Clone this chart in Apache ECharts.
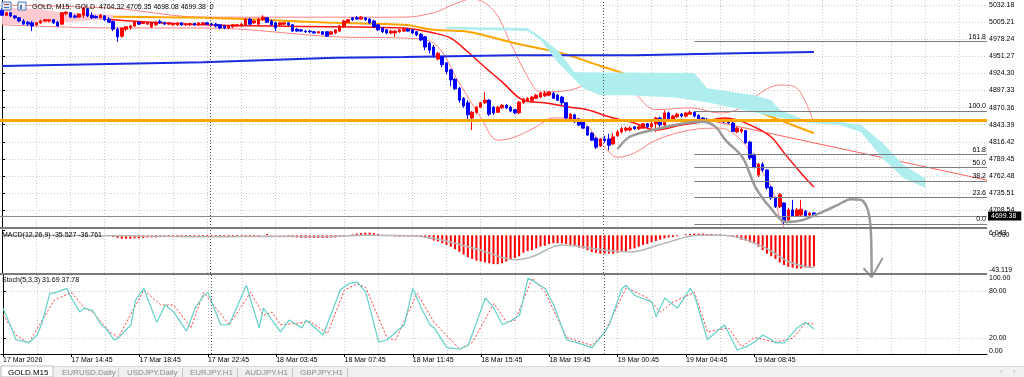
<!DOCTYPE html>
<html>
<head>
<meta charset="utf-8">
<title>GOLD M15</title>
<script src="https://cdn.jsdelivr.net/npm/echarts@6.0.0/dist/echarts.min.js"></script>
<style>
  html, body { margin: 0; padding: 0; background: #fff; }
  #chart { width: 1024px; height: 377px; }
</style>
</head>
<body>
<div id="chart"></div>
<script>
// slots on the time axis (bars + empty shift on the right)
const SLOTS = 231

const timeLabels = ['17 Mar 2026', '17 Mar 14:45', '17 Mar 18:45', '17 Mar 22:45', '18 Mar 03:45', '18 Mar 07:45',
  '18 Mar 11:45', '18 Mar 15:45', '18 Mar 19:45', '19 Mar 00:45', '19 Mar 04:45', '19 Mar 08:45']
const priceTicks = [5032.18, 5005.21, 4978.24, 4951.27, 4924.30, 4897.33, 4870.36, 4843.39, 4816.42, 4789.45, 4762.48, 4735.51, 4708.54]
const macdTicks = [6.043, -43.119]
const macdZero = [0]
const stochTicks = [100, 80, 20, 0]
const tabs = ['GOLD.M15', 'EURUSD.Daily', 'USDJPY.Daily', 'EURJPY.H1', 'AUDJPY.H1', 'GBPJPY.H1']

// M15 candles [open, close, low, high]
const candles = [
  [5024,5016,5015,5027],[5016,5020,5015,5021],[5020,5015,5013,5021],[5015,5012,5010,5016],[5012,5007,5005,5013],
  [5007,5002,5001,5010],[5005,5002,4999,5007],[5004,4999,4991,5007],[5001,5004,4999,5005],[5004,5007,5002,5009],
  [5007,5009,5006,5010],[5007,5009,5005,5010],[5009,5004,5002,5010],[5005,4999,4998,5007],[5002,5020,5001,5021],
  [5019,5021,5016,5022],[5020,5013,5012,5021],[5015,5013,5011,5017],[5013,5018,5012,5019],[5016,5027,5012,5029],
  [5026,5015,5013,5027],[5016,5012,5010,5021],[5014,5012,5011,5016],[5012,5016,5011,5018],[5015,5009,5007,5016],
  [5010,5005,5004,5013],[5006,4994,4991,5008],[4994,4982,4974,4997],[4983,4996,4981,4997],[4994,4998,4991,4999],
  [4997,4999,4993,5001],[4999,5005,4998,5007],[5005,5002,5001,5007],[5003,5005,5002,5007],[5002,5004,5001,5005],
  [4998,5004,4996,5005],[5001,5005,4999,5007],[5006,5004,5002,5009],[5004,5002,5001,5006],[5002,5004,5001,5005],
  [5001,5002,4999,5004],[5001,5004,4999,5005],[5004,5001,4999,5005],[5001,5002,4999,5004],[5001,5003,4999,5004],
  [5003,5001,4999,5004],[5001,5004,4999,5005],[5002,5004,5001,5005],[5004,5002,5001,5005],[5002,5001,4999,5004],
  [5002,4999,4997,5004],[5001,4996,4994,5002],[4999,4996,4994,5001],[4996,4999,4994,5001],[4998,5001,4996,5002],
  [4999,5001,4998,5002],[4999,5002,4998,5004],[5001,5010,4999,5012],[5010,5002,5001,5012],[5004,5007,5002,5009],
  [5002,5010,5001,5012],[5009,5013,5007,5016],[5012,5005,5004,5013],[5007,5001,4999,5009],[5004,4996,4991,5005],
  [5001,5004,4999,5005],[5002,5004,5001,5005],[5004,5001,4999,5005],[5001,4991,4990,5002],[4994,4991,4990,4996],
  [4993,4991,4990,4994],[4991,4990,4988,4993],[4991,4990,4988,4993],[4990,4988,4987,4991],[4988,4990,4987,4991],
  [4990,4986,4985,4991],[4990,4983,4982,4991],[4986,4990,4985,4991],[4988,4993,4986,4994],[4991,4999,4990,5001],
  [4998,5007,4996,5009],[5005,5009,5004,5010],[5012,5009,5007,5013],[5012,5010,5009,5015],[5010,5013,5009,5015],
  [5012,5009,5007,5013],[5010,5004,5002,5012],[5007,4998,4996,5009],[5001,4993,4991,5002],[4996,4990,4988,4997],
  [4993,4988,4986,4994],[4988,4991,4986,4993],[4988,4991,4982,4993],[4990,4993,4988,4994],[4991,4994,4990,4996],
  [4994,4991,4990,4996],[4993,4988,4986,4994],[4990,4985,4983,4991],[4986,4977,4975,4988],[4982,4966,4961,4983],
  [4972,4961,4956,4974],[4966,4953,4949,4969],[4947,4956,4945,4958],[4950,4938,4934,4952],[4941,4927,4923,4942],
  [4930,4914,4904,4931],[4915,4900,4898,4917],[4901,4882,4878,4903],[4885,4873,4870,4887],[4878,4859,4851,4882],
  [4854,4863,4835,4865],[4863,4871,4860,4873],[4871,4878,4870,4879],[4878,4882,4876,4895],[4882,4860,4857,4884],
  [4871,4862,4859,4873],[4863,4871,4862,4873],[4870,4874,4868,4876],[4874,4870,4868,4876],[4871,4865,4863,4873],
  [4867,4862,4860,4868],[4862,4879,4860,4881],[4878,4884,4876,4885],[4881,4885,4879,4887],[4882,4887,4881,4889],
  [4885,4890,4884,4892],[4887,4893,4885,4895],[4889,4893,4887,4897],[4890,4895,4889,4896],[4893,4885,4884,4895],
  [4890,4882,4881,4892],[4887,4878,4874,4889],[4878,4854,4852,4879],[4851,4860,4849,4862],[4859,4848,4846,4860],
  [4852,4843,4841,4854],[4848,4838,4837,4849],[4840,4827,4826,4841],[4830,4819,4818,4832],[4822,4808,4805,4824],
  [4810,4821,4808,4822],[4821,4818,4815,4826],[4821,4811,4803,4829],[4813,4824,4812,4830],[4826,4832,4824,4835],
  [4832,4837,4830,4840],[4835,4838,4832,4840],[4835,4838,4833,4841],[4840,4837,4835,4841],[4837,4840,4835,4843],
  [4838,4845,4837,4846],[4845,4840,4838,4846],[4840,4845,4838,4848],[4845,4854,4832,4856],[4854,4843,4840,4856],
  [4843,4862,4841,4866],[4862,4850,4848,4864],[4849,4857,4848,4859],[4856,4860,4854,4862],[4860,4857,4855,4862],
  [4857,4862,4855,4863],[4860,4863,4859,4866],[4863,4857,4855,4865],[4858,4852,4851,4860],[4854,4851,4849,4855],
  [4852,4849,4848,4854],[4851,4849,4848,4852],[4849,4851,4848,4852],[4851,4849,4848,4852],[4851,4848,4846,4852],
  [4849,4846,4845,4851],[4846,4833,4832,4848],[4832,4838,4830,4840],[4833,4836,4830,4838],[4834,4815,4813,4835],
  [4816,4791,4788,4818],[4795,4776,4775,4798],[4764,4781,4761,4783],[4781,4772,4769,4784],[4772,4744,4741,4773],
  [4745,4728,4725,4747],[4728,4714,4712,4730],[4714,4733,4712,4736],[4720,4690,4687,4721],[4693,4709,4688,4712],
  [4709,4699,4698,4725],[4699,4709,4698,4712],[4701,4710,4699,4725],[4707,4699,4698,4709],[4701,4704,4699,4705],
  [4704.32,4699.38,4698.08,4705.35]
]

// indicator lines, [bar index, price]
const maRed = [[0,5024],[26,5009],[47,5001],[78,4998],[94,4996],[101,4988],[105,4980],[109,4958],[113,4934],[117,4911],
  [122,4882],[127,4878],[133,4871],[137,4867],[142,4856],[148,4846],[153,4835],[159,4843],[164,4848],[169,4854],
  [172,4851],[176,4840],[180,4824],[183,4799],[187,4767],[190,4745]]
const maOrange = [[0,5015],[47,5012],[78,5004],[94,5001],[101,4993],[109,4990],[120,4972],[131,4956],[141,4934],
  [156,4903],[172,4878],[180,4856],[190,4830]]
const maBlue = [[0,4936],[47,4942],[78,4949],[94,4950],[120,4953],[148,4953],[172,4956],[190,4958]]
const bbUpper = [[0,5032],[26,5027],[47,5013],[78,5013],[94,5013],[101,5020],[106,5034],[110,5042],[115,5024],
  [119,4972],[123,4919],[126,4895],[133,4898],[141,4917],[144,4914],[148,4893],[153,4867],[161,4870],[168,4862],
  [172,4867],[176,4887],[182,4906],[186,4901],[190,4846]]
const bbLower = [[0,5001],[26,4996],[47,4996],[78,4982],[94,4980],[101,4972],[107,4909],[112,4855],[116,4819],
  [120,4824],[125,4840],[129,4854],[134,4854],[141,4808],[144,4792],[148,4799],[153,4819],[161,4835],[168,4838],
  [173,4819],[176,4788],[180,4745],[183,4682],[187,4670],[190,4668]]
const kumoTop = [[104,4998],[123,4996],[126,4982],[130,4961],[134,4926],[162,4925],[165,4901],[176,4890],
  [180,4882],[182,4867],[189,4848],[196,4848],[201,4843],[206,4815],[211,4780],[216,4759]]
const kumoBottom = [[104,4994],[123,4991],[126,4977],[130,4942],[136,4901],[140,4890],[147,4890],[158,4886],
  [165,4879],[176,4863],[182,4854],[189,4846],[196,4843],[201,4832],[206,4791],[211,4759],[216,4744]]
const pinkTop = [[0,5028],[9,5026],[13,5021],[26,5017]]
const pinkBottom = [[0,5002],[13,5004],[26,5010]]
const trendLine = [[163,4854],[230.5,4756]]
const drawnPath = [[144,4805],[146.8,4824],[152.2,4835],[160,4846],[163.9,4848],[167,4840],[169.3,4819],[173.3,4792],
  [176.3,4745],[179.6,4714],[183.4,4690],[187.4,4693],[192,4706],[195.6,4717],[198.6,4726],[201,4725],
  [202.6,4709],[203.3,4677],[203.5,4603]]
const arrowHead = [[201.6,4617],[203.5,4603],[206.1,4633]]

const orangeLevel = 4850.8
const fibLow = 4686.8
const fibHigh = 4865.0
const fibStart = 162
const fibLevels = [0, 23.6, 38.2, 50, 61.8, 100, 161.8]
const separators = [48.8, 140.8]

// MACD(12,26,9)
const macdHist = [
  -0.3,-0.3,-0.3,-0.3,-0.3,-0.3,-1,-1,-1,-0.5,-0.5,-0.5,-0.5,-0.5,-0.5,-0.5,-0.5,-0.5,-0.5,-0.5,
  -0.5,-0.5,-0.5,-0.5,-0.5,-0.5,-2,-3,-4,-4,-4,-3.5,-3.5,-3,-2.5,-2.5,-2.5,-2,-2,-2,
  -2,-2,-2,-2,-2,-2,-1.5,-1.5,-1,-1,-1,-1,-1,-1,-1,-1,-1,-1,-1,-1,
  -1,0,1.5,-0.5,-0.5,-0.5,-0.5,-1,-2,-2.5,-3,-3,-3,-3,-3,-3,-3,-2.5,-2.5,-2,
  -1.5,-0.5,1,2,2.5,3,3,2.5,1.5,0.5,-1,-1,-1.5,-1.5,-1.5,-1.5,-1.5,-1.5,-2,-3,
  -4,-6,-7,-9,-11,-13,-16,-19,-22,-25,-27,-29,-30,-31,-32,-33,-33,-32,-30,-28,
  -26,-24,-20,-18,-17,-15,-13,-12,-10,-9,-9,-9,-10,-11,-12,-14,-15,-17,-19,-20,
  -21,-21,-21,-21,-20,-19,-18,-16,-15,-13,-11,-10,-8,-6.5,-5,-3.5,-2.5,-2,-1,0,
  1,1.5,2,2,2,1.5,1.5,1,1,0,-1,-2,-3,-5,-6,-8,-10,-13,-17,-21,
  -24,-27,-31,-34,-36,-37,-38,-38,-37,-36.5,-35.527
]
const macdSignal = [[0,0],[26,-0.5],[50,-1.6],[62,-1],[75,-1.5],[85,0],[95,-0.5],[101,-3.5],[112,-17],[120,-28],
  [124,-24.5],[131,-11],[141,-17],[147,-19],[155,-9],[163,0],[169,0],[178,-13],[184,-30],[188,-36],[190,-36.761]]

// Stoch(5,3,3)
const stochMain = [[0,58],[2,33],[3,18],[5,16],[6,14],[8,24],[9,37],[11,77],[12,77],[15,83],[16,71],[18,53],[19,58],
  [21,55],[23,37],[24,33],[26,18],[27,20],[30,37],[31,68],[33,83],[36,40],[38,62],[40,53],[43,29],[45,58],[47,74],
  [48,78],[51,37],[53,37],[57,87],[60,33],[61,58],[65,28],[67,43],[70,33],[71,43],[75,24],[79,81],[81,89],[83,91],
  [85,78],[88,15],[90,18],[94,37],[96,83],[98,58],[100,37],[101,33],[104,8],[107,6],[109,11],[113,71],[115,58],
  [117,37],[119,42],[121,49],[123,96],[124,93],[127,83],[129,62],[132,18],[134,15],[138,8],[141,28],[142,37],
  [145,83],[146,87],[148,74],[152,66],[153,47],[155,71],[158,58],[161,83],[162,74],[165,18],[169,37],[172,5],
  [174,9],[176,15],[178,24],[180,18],[181,14],[183,14],[186,33],[188,40],[190,31.69]]
const stochSignal = [[0,50],[3,24],[6,14],[12,68],[16,78],[19,59],[21,53],[25,28],[27,21],[33,81],[37,62],[40,62],
  [44,33],[47,78],[53,37],[58,78],[61,49],[63,53],[65,37],[69,39],[72,41],[76,26],[80,81],[83,89],[85,84],[90,20],
  [92,18],[97,77],[101,40],[107,6],[110,15],[115,64],[118,40],[120,43],[124,96],[127,78],[132,21],[136,14],
  [138,11],[141,28],[146,84],[151,71],[154,53],[157,66],[162,78],[165,28],[170,33],[173,9],[176,21],[181,15],
  [185,20],[188,39],[190,37.78]]

const FONT = 'Liberation Sans'
const slots = Array.from({ length: SLOTS }, (_, i) => i)
const vGrid = slots.filter(i => i % 8 === 0)
const labelIdx = timeLabels.map((_, k) => k * 16)
const last = candles[candles.length - 1]

const gridLine = { show: true, lineStyle: { color: '#c9c9c9', type: [1, 2], width: 1 } }
const hidden = { show: false }

// value x-axis laid over each pane, same slots as the category axis
const overlayX = (gridIndex, withGrid) => ({
  type: 'value', gridIndex, min: -0.5, max: SLOTS - 0.5,
  axisLine: hidden, axisLabel: hidden,
  axisTick: { show: false, customValues: vGrid },
  splitLine: withGrid ? gridLine : hidden
})
const catX = gridIndex => ({ type: 'category', gridIndex, data: slots, boundaryGap: true, show: false })

const sepLine = {
  silent: true, symbol: 'none', animation: false,
  lineStyle: { color: '#555', type: [1, 2], width: 1 },
  label: hidden,
  data: separators.map(v => ({ xAxis: v }))
}
const axisText = { color: '#000', fontFamily: FONT, fontSize: 7 }
// edge labels sit inside the pane, as the terminal draws them
const edgeRich = { dn: { padding: [7, 0, 0, 0] }, up: { padding: [0, 0, 6, 0] } }

const kumo = (top, bottom, fill) => ({
  type: 'custom', xAxisIndex: 1, yAxisIndex: 0, z: 3, silent: true,
  data: [[top[0][0], top[0][1]]],
  renderItem: (params, api) => ({
    type: 'polygon',
    shape: { points: top.concat(bottom.slice().reverse()).map(p => api.coord(p)) },
    style: { fill, blend: 'multiply' }
  })
})
const line = (data, color, width, extra) => Object.assign({
  type: 'line', xAxisIndex: 1, yAxisIndex: 0, data, showSymbol: false, smooth: 0.35,
  lineStyle: { color, width }, silent: true, z: 2
}, extra || {})

const option = {
  animation: false,
  backgroundColor: '#fff',
  textStyle: { fontFamily: FONT },
  grid: [
    { left: -2, right: 37, top: 0, height: 228 },
    { left: -2, right: 37, top: 230, height: 43 },
    { left: -2, right: 37, top: 275, height: 79 }
  ],
  xAxis: [
    catX(0), overlayX(0, true),
    catX(1), overlayX(1, true),
    overlayX(2, true),
    {
      type: 'value', gridIndex: 2, min: -0.5, max: SLOTS - 0.5, position: 'bottom',
      axisLine: { show: true, lineStyle: { color: '#000', width: 1 } },
      axisTick: { show: true, length: 3, customValues: labelIdx, lineStyle: { color: '#000' } },
      axisLabel: Object.assign({ customValues: labelIdx, align: 'left', margin: 3,
        formatter: v => timeLabels[Math.round(v / 16)] || '' }, axisText),
      splitLine: hidden
    }
  ],
  yAxis: [
    {
      type: 'value', gridIndex: 0, position: 'right', min: 4680.5, max: 5040.07, scale: true,
      axisLine: { show: true, lineStyle: { color: '#000' } },
      axisTick: { show: true, length: 3, customValues: priceTicks, lineStyle: { color: '#000' } },
      axisLabel: Object.assign({ customValues: priceTicks, margin: 2, formatter: v => v.toFixed(2) }, axisText),
      splitLine: gridLine
    },
    {
      type: 'value', gridIndex: 1, position: 'right', min: -43.119, max: 6.043,
      axisLine: { show: true, lineStyle: { color: '#000' } },
      axisTick: { show: true, length: 3, customValues: macdTicks, lineStyle: { color: '#000' } },
      axisLabel: Object.assign({
        customValues: macdTicks, margin: 2, showMinLabel: true, showMaxLabel: true,
        formatter: v => v > 0 ? '{dn|' + v.toFixed(3) + '}' : '{up|' + v.toFixed(3) + '}',
        rich: edgeRich
      }, axisText),
      splitLine: hidden
    },
    {
      type: 'value', gridIndex: 2, position: 'right', min: 0, max: 100,
      axisLine: { show: true, lineStyle: { color: '#000' } },
      axisTick: { show: true, length: 3, customValues: [20, 80], lineStyle: { color: '#000' } },
      axisLabel: Object.assign({
        customValues: stochTicks, margin: 2, showMinLabel: true, showMaxLabel: true,
        formatter: v => v === 100 ? '{dn|100.00}' : v === 0 ? '{up|0.00}' : v.toFixed(2),
        rich: edgeRich
      }, axisText),
      splitLine: gridLine
    },
    {
      // zero label of the MACD pane, drawn on its own so it can overlap the max label
      type: 'value', gridIndex: 1, position: 'right', min: -43.119, max: 6.043,
      axisLine: hidden, splitLine: hidden,
      axisTick: { show: false, customValues: macdZero },
      axisLabel: Object.assign({ customValues: macdZero, margin: 5, showMinLabel: true, showMaxLabel: true,
        formatter: v => v.toFixed(3) }, axisText)
    }
  ],
  series: [
    kumo(pinkTop, pinkBottom, '#ffcad0'),
    kumo(kumoTop, kumoBottom, '#aeeeee'),
    line(bbUpper, '#ff8080', 1),
    line(bbLower, '#ff8080', 1, { markLine: sepLine }),
    line(maOrange, '#ffa500', 2),
    line(maRed, '#ff1010', 1.5),
    line(maBlue, '#1a2be0', 2, {
      smooth: false,
      markLine: {
        silent: true, symbol: 'none', animation: false,
        data: [
          { yAxis: orangeLevel, lineStyle: { color: '#ffa500', width: 3, type: 'solid' }, label: hidden },
          {
            yAxis: last[1], lineStyle: { color: '#8a8a8a', width: 1, type: 'solid' },
            label: { show: true, position: 'end', distance: 1, formatter: () => last[1].toFixed(2),
              backgroundColor: '#000', color: '#fff', fontFamily: FONT, fontSize: 7, padding: [1, 5, 1, 3] }
          }
        ]
      }
    }),
    line(trendLine, '#ff6060', 1, {
      smooth: false,
      markLine: {
        silent: true, symbol: 'none', animation: false,
        lineStyle: { color: '#7d7d7d', width: 1, type: 'solid' },
        label: { show: true, position: 'insideEndTop', distance: 1, formatter: '{b}',
          color: '#000', fontFamily: FONT, fontSize: 7 },
        data: fibLevels.map(l => {
          const p = fibLow + (fibHigh - fibLow) * l / 100
          return [{ coord: [fibStart, p], name: l.toFixed(1) }, { coord: [SLOTS - 0.5, p] }]
        })
      }
    }),
    {
      type: 'candlestick', xAxisIndex: 0, yAxisIndex: 0, data: candles, barWidth: 3, z: 4, silent: true,
      itemStyle: { color: '#ff0000', color0: '#0000ff', borderColor: '#ff0000', borderColor0: '#0000ff', borderWidth: 1 }
    },
    line(drawnPath, '#9a9a9a', 2.5, { clip: false, z: 5, smooth: 0.3 }),
    line(arrowHead, '#9a9a9a', 2, { clip: false, z: 5, smooth: false }),

    {
      type: 'bar', xAxisIndex: 2, yAxisIndex: 1, data: macdHist, barWidth: 2, silent: true,
      itemStyle: { color: '#ff0000' }
    },
    {
      type: 'line', xAxisIndex: 3, yAxisIndex: 1, data: macdSignal, showSymbol: false, smooth: 0.35, silent: true,
      lineStyle: { color: '#b8b8b8', width: 1.5 }, markLine: sepLine
    },

    {
      type: 'line', xAxisIndex: 4, yAxisIndex: 2, data: stochSignal, showSymbol: false, silent: true,
      lineStyle: { color: '#ff3b3b', width: 1, type: [2, 2] }, markLine: sepLine
    },
    {
      type: 'line', xAxisIndex: 4, yAxisIndex: 2, data: stochMain, showSymbol: false, silent: true,
      lineStyle: { color: '#62d2c8', width: 1.2 }
    }
  ],
  graphic: [
    // pane separators
    { type: 'rect', z: 50, shape: { x: 0, y: 227, width: 987, height: 2 }, style: { fill: '#7b7b7b' }, silent: true },
    { type: 'rect', z: 50, shape: { x: 0, y: 273, width: 987, height: 2 }, style: { fill: '#7b7b7b' }, silent: true },
    // header icons
    { type: 'rect', z: 50, shape: { x: 2, y: 2, width: 9, height: 8 }, style: { fill: '#dfe8f5', stroke: '#4a78c0', lineWidth: 1 } },
    { type: 'rect', z: 50, shape: { x: 4, y: 4, width: 5, height: 1 }, style: { fill: '#c04040' } },
    { type: 'rect', z: 50, shape: { x: 4, y: 7, width: 5, height: 1 }, style: { fill: '#4a78c0' } },
    { type: 'rect', z: 50, shape: { x: 18, y: 2, width: 8, height: 8 }, style: { fill: '#eef3fb', stroke: '#4a78c0', lineWidth: 1 } },
    { type: 'rect', z: 50, shape: { x: 20, y: 5, width: 2, height: 4 }, style: { fill: '#4a78c0' } },
    {
      type: 'text', z: 50, x: 32, y: 7,
      style: { text: 'GOLD, M15:  GOLD  ' + [last[0], last[3], last[2], last[1]].map(v => v.toFixed(2)).join(' ') + '  0',
        fill: '#000', font: '7px "Liberation Sans"', verticalAlign: 'middle' }
    },
    { type: 'text', z: 50, x: 2, y: 235, style: { text: 'MACD(12,26,9) -35.527 -36.761', fill: '#000', font: '7px "Liberation Sans"', verticalAlign: 'middle' } },
    { type: 'text', z: 50, x: 2, y: 280, style: { text: 'Stoch(5,3,3) ' + stochMain[stochMain.length - 1][1].toFixed(2) + ' ' + stochSignal[stochSignal.length - 1][1].toFixed(2),
      fill: '#000', font: '7px "Liberation Sans"', verticalAlign: 'middle' } },
    // tab bar
    { type: 'rect', z: 50, shape: { x: 0, y: 366, width: 1024, height: 11 }, style: { fill: '#f0f0f0' } },
    { type: 'rect', z: 50, shape: { x: 0, y: 366, width: 1024, height: 1 }, style: { fill: '#d9d9d9' } },
    { type: 'rect', z: 51, shape: { x: 1, y: 366, width: 52, height: 11 }, style: { fill: '#fff', stroke: '#bdbdbd', lineWidth: 1 } },
    { type: 'text', z: 52, x: 1000, y: 372, style: { text: '‹', fill: '#b0b0b0', font: '8px "Liberation Sans"', verticalAlign: 'middle' } },
    { type: 'text', z: 52, x: 1013, y: 372, style: { text: '›', fill: '#b0b0b0', font: '8px "Liberation Sans"', verticalAlign: 'middle' } }
  ].concat(tabs.map((t, k) => {
    const xs = [8, 62, 127, 190, 245, 300]
    return { type: 'text', z: 52, x: xs[k], y: 373,
      style: { text: t, fill: k === 0 ? '#000' : '#8a8a8a', font: '8px "Liberation Sans"', verticalAlign: 'middle' } }
  })).concat([118, 182, 237, 292, 347].map(x => ({
    type: 'rect', z: 52, shape: { x, y: 368, width: 1, height: 9 }, style: { fill: '#c8c8c8' }
  })))
}

const chart = echarts.init(document.getElementById('chart'))
chart.setOption(option)
</script>
</body>
</html>
